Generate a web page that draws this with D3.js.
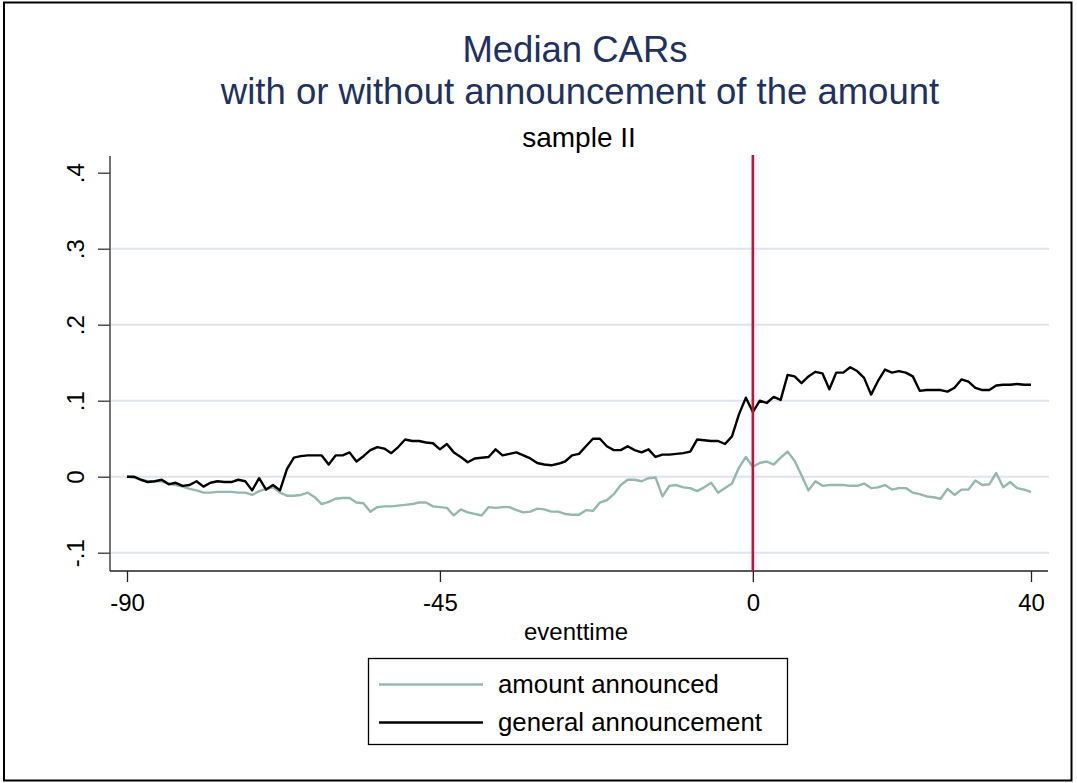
<!DOCTYPE html>
<html>
<head>
<meta charset="utf-8">
<script src="https://cdn.jsdelivr.net/npm/d3@7"></script>
<style>
  html, body { margin: 0; padding: 0; background: #fff; }
  svg { display: block; font-family: "Liberation Sans", Arial, sans-serif; }
</style>
</head>
<body>
<svg id="chart" width="1077" height="783"></svg>
<script>
// ---- data ----
const eventtime = d3.range(-90, 41);
const generalAnnouncement = [
  0, 0, -0.004, -0.007, -0.006, -0.004, -0.010, -0.008, -0.012, -0.011,
  -0.006, -0.013, -0.008, -0.006, -0.007, -0.007, -0.004, -0.006, -0.018, -0.002,
  -0.017, -0.011, -0.018,
  0.010, 0.025, 0.027, 0.028, 0.028, 0.028, 0.016, 0.028, 0.028, 0.032,
  0.020, 0.027, 0.035, 0.039, 0.037, 0.031, 0.039, 0.049, 0.047, 0.047, 0.045,
  0.044, 0.036, 0.043, 0.032, 0.026, 0.019, 0.024, 0.025, 0.026, 0.036,
  0.028, 0.030, 0.032, 0.028, 0.024, 0.018, 0.016, 0.015, 0.017, 0.020, 0.028, 0.030,
  0.040, 0.050, 0.050, 0.040, 0.035, 0.035, 0.040, 0.035, 0.032, 0.036,
  0.026, 0.029, 0.029, 0.030, 0.031, 0.033, 0.049, 0.048, 0.047, 0.047, 0.043,
  0.053, 0.082, 0.104, 0.085, 0.100, 0.097, 0.105, 0.101, 0.134, 0.132,
  0.123, 0.132, 0.138, 0.136, 0.115, 0.137, 0.137, 0.144, 0.139, 0.130, 0.108, 0.126,
  0.141, 0.137, 0.139, 0.137, 0.132, 0.113, 0.114, 0.114, 0.114, 0.112,
  0.117, 0.128, 0.125, 0.117, 0.114, 0.114, 0.120, 0.121, 0.121, 0.122, 0.121, 0.121
];
const amountAnnounced = [
  0, -0.001, -0.004, -0.006, -0.006, -0.006, -0.009, -0.011, -0.013, -0.016,
  -0.018, -0.021, -0.021, -0.020, -0.020, -0.020, -0.021, -0.021, -0.024, -0.019,
  -0.016, -0.014, -0.021,
  -0.025, -0.025, -0.024, -0.021, -0.027, -0.036, -0.033, -0.029, -0.028, -0.028,
  -0.034, -0.035, -0.046, -0.040, -0.039, -0.039, -0.038, -0.037, -0.036, -0.034, -0.034,
  -0.039, -0.040, -0.041, -0.051, -0.043, -0.047, -0.049, -0.051, -0.040, -0.041,
  -0.040, -0.040, -0.044, -0.047, -0.046, -0.042, -0.043, -0.046, -0.046, -0.049, -0.050, -0.050,
  -0.044, -0.045, -0.034, -0.031, -0.023, -0.011, -0.004, -0.004, -0.006, -0.002,
  -0.001, -0.026, -0.012, -0.011, -0.014, -0.015, -0.019, -0.014, -0.008, -0.021, -0.015,
  -0.009, 0.012, 0.026, 0.013, 0.018, 0.020, 0.016, 0.025, 0.033, 0.021,
  0.002, -0.018, -0.006, -0.012, -0.011, -0.011, -0.011, -0.012, -0.012, -0.009, -0.015, -0.014,
  -0.011, -0.017, -0.015, -0.015, -0.021, -0.023, -0.026, -0.027, -0.029, -0.016,
  -0.024, -0.017, -0.017, -0.005, -0.011, -0.010, 0.005, -0.014, -0.007, -0.015, -0.017, -0.020
];
const xTicks = [-90, -45, 0, 40];
const xTickLabels = ["-90", "-45", "0", "40"];
const yTicks = [-0.1, 0, 0.1, 0.2, 0.3, 0.4];
const yTickLabels = ["-.1", "0", ".1", ".2", ".3", ".4"];
const gridValues = [-0.1, 0, 0.1, 0.2, 0.3];
const eventLine = [0];
const seriesNames = ["amount announced", "general announcement"];
const titleLines = ["Median CARs", "with or without announcement of the amount"];
const subtitle = "sample II";
const xTitle = "eventtime";

// ---- layout ----
const svg = d3.select("#chart");
const plotLeft = 110, plotRight = 1048, plotTop = 155, plotBottom = 571;
const x = d3.scaleLinear().domain([-90, 40]).range([127, 1031]);
const y = d3.scaleLinear().domain([-0.1, 0.4]).range([552.7, 172.7]);
const FONT = "'Liberation Sans', Arial, sans-serif";

// outer frame
svg.append("rect")
  .attr("x", 4).attr("y", 2.5).attr("width", 1067.5).attr("height", 778)
  .attr("fill", "none").attr("stroke", "#000").attr("stroke-width", 2);

// grid
svg.append("g").selectAll("line").data(gridValues).join("line")
  .attr("x1", plotLeft).attr("x2", plotRight + 1)
  .attr("y1", d => y(d)).attr("y2", d => y(d))
  .attr("stroke", "#dfe3ef").attr("stroke-width", 2);

// y axis
const yAxis = d3.axisLeft(y).tickValues(yTicks)
  .tickFormat((d, i) => yTickLabels[i]).tickSize(12).tickSizeOuter(0);
const gy = svg.append("g").attr("transform", `translate(${plotLeft},0)`).call(yAxis);
gy.select(".domain").remove();
gy.selectAll(".tick line").attr("stroke", "#333").attr("stroke-width", 1.3);
gy.selectAll(".tick text")
  .attr("x", null).attr("dy", null)
  .attr("transform", "translate(-26,0) rotate(-90)")
  .attr("text-anchor", "middle")
  .attr("font-size", 24).attr("fill", "#000")
  .attr("font-family", FONT);
svg.append("line")
  .attr("x1", plotLeft).attr("x2", plotLeft)
  .attr("y1", plotTop + 1).attr("y2", plotBottom)
  .attr("stroke", "#444").attr("stroke-width", 1.5);

// x axis
const xAxis = d3.axisBottom(x).tickValues(xTicks)
  .tickFormat((d, i) => xTickLabels[i])
  .tickSize(11).tickSizeOuter(0);
const gx = svg.append("g").attr("transform", `translate(0,${plotBottom})`).call(xAxis);
gx.select(".domain").remove();
gx.selectAll(".tick line").attr("stroke", "#222").attr("stroke-width", 1.3);
gx.selectAll(".tick text")
  .attr("y", 40).attr("dy", null)
  .attr("font-size", 24).attr("fill", "#000")
  .attr("font-family", FONT);
svg.append("line")
  .attr("x1", plotLeft).attr("x2", plotRight)
  .attr("y1", plotBottom).attr("y2", plotBottom)
  .attr("stroke", "#222").attr("stroke-width", 1.5);

// lines
const line = d3.line().x((d, i) => x(eventtime[i])).y(d => y(d));
svg.append("path").datum(amountAnnounced)
  .attr("d", line).attr("fill", "none")
  .attr("stroke", "#93b8ad").attr("stroke-width", 2.4).attr("stroke-linejoin", "round");
svg.append("path").datum(generalAnnouncement)
  .attr("d", line).attr("fill", "none")
  .attr("stroke", "#000").attr("stroke-width", 2.4).attr("stroke-linejoin", "round");

// event line
svg.append("g").selectAll("line").data(eventLine).join("line")
  .attr("x1", d => x(d)).attr("x2", d => x(d))
  .attr("y1", plotTop).attr("y2", plotBottom)
  .attr("stroke", "#c8103c").attr("stroke-width", 2.6);

// titles
svg.append("text").attr("x", 575).attr("y", 62)
  .attr("text-anchor", "middle").attr("font-size", 36.5).attr("fill", "#1e3160")
  .text(titleLines[0]);
svg.append("text").attr("x", 580).attr("y", 104)
  .attr("text-anchor", "middle").attr("font-size", 36.5).attr("fill", "#1e3160")
  .text(titleLines[1]);
svg.append("text").attr("x", 579).attr("y", 147)
  .attr("text-anchor", "middle").attr("font-size", 28).attr("fill", "#000")
  .text(subtitle);
svg.append("text").attr("x", 576).attr("y", 640)
  .attr("text-anchor", "middle").attr("font-size", 24).attr("fill", "#000")
  .text(xTitle);

// legend
const lg = svg.append("g");
lg.append("rect").attr("x", 368.5).attr("y", 658.5).attr("width", 419).attr("height", 86)
  .attr("fill", "#fff").attr("stroke", "#000").attr("stroke-width", 1.3);
const legendColors = ["#93b8ad", "#000"];
const legendY = [684.5, 722.5];
seriesNames.forEach((name, i) => {
  lg.append("line").attr("x1", 379).attr("x2", 483)
    .attr("y1", legendY[i]).attr("y2", legendY[i])
    .attr("stroke", legendColors[i]).attr("stroke-width", 2.4);
  lg.append("text").attr("x", 498).attr("y", legendY[i] + 8)
    .attr("font-size", 25.8).attr("fill", "#000").text(name);
});
</script>
</body>
</html>
